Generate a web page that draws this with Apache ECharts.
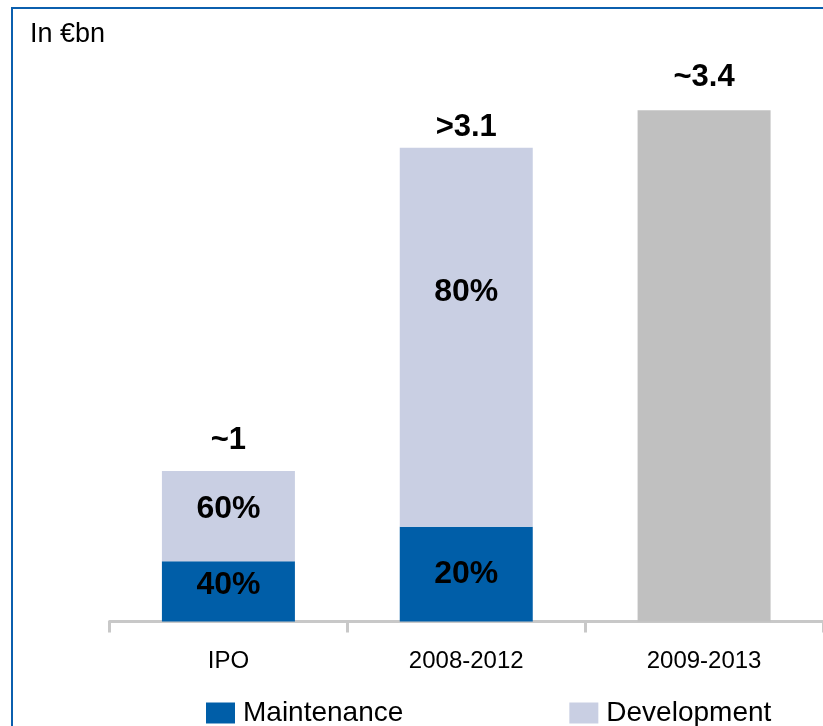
<!DOCTYPE html>
<html>
<head>
<meta charset="utf-8">
<script src="https://cdn.jsdelivr.net/npm/echarts@6/dist/echarts.min.js"></script>
<style>
  html, body { margin: 0; padding: 0; background: #ffffff; }
  #chart { width: 823px; height: 726px; }
</style>
</head>
<body>
<div id="chart"></div>
<script>
// Capex programmes, in € billions
const categories = ['IPO', '2008-2012', '2009-2013'];
const totals = [1, 3.15, 3.4];                    // bar totals
const totalLabels = ['~1', '>3.1', '~3.4'];       // labels above bars
const maintenanceShare = [0.4, 0.2, null];        // share of maintenance in total
const developmentShare = [0.6, 0.8, null];        // share of development in total
const shareLabels = {
  maintenance: ['40%', '20%', ''],
  development: ['60%', '80%', '']
};
const undividedTotal = [null, null, 3.4];         // programme without split

const FONT = "'Liberation Sans', Arial, Helvetica, sans-serif";
const C_MAINT = '#005ea8';
const C_DEV = '#c9cfe3';
const C_GREY = '#c0c0c0';

const maintenance = categories.map((c, i) =>
  maintenanceShare[i] == null ? null : +(totals[i] * maintenanceShare[i]).toFixed(3));
const development = categories.map((c, i) =>
  developmentShare[i] == null ? null : +(totals[i] * developmentShare[i]).toFixed(3));

// vertical nudges of the share labels inside their segments
const maintLabelShift = [-6, 0, 0];
const devLabelShift = [-7, -45, 0];
// gap between bar top and total label
const totalLabelGap = [15, 5, 17];

const insideLabel = {
  show: true,
  position: 'inside',
  color: '#000',
  fontFamily: FONT,
  fontWeight: 'bold',
  fontSize: 32
};

const chart = echarts.init(document.getElementById('chart'), null, { renderer: 'canvas' });

chart.setOption({
  animation: false,
  backgroundColor: '#ffffff',
  grid: { left: 109.5, width: 717, top: 20, bottom: 104.5, containLabel: false },
  xAxis: {
    type: 'category',
    data: categories,
    axisLine: { show: true, lineStyle: { color: '#c8c8c8', width: 3 } },
    axisTick: { show: true, alignWithLabel: false, length: 11, lineStyle: { color: '#c8c8c8', width: 3 } },
    axisLabel: { color: '#000', fontFamily: FONT, fontSize: 24, margin: 28 }
  },
  yAxis: {
    type: 'value',
    min: 0,
    max: 4,
    show: false,
    splitLine: { show: false }
  },
  legend: {
    data: ['Maintenance', 'Development'],
    left: 206,
    top: 699,
    padding: 0,
    itemWidth: 29,
    itemHeight: 21,
    itemGap: 166,
    icon: 'rect',
    textStyle: { color: '#000', fontFamily: FONT, fontSize: 28, padding: [0, 0, 0, 3] }
  },
  graphic: [
    {
      type: 'rect',
      shape: { x: 12, y: 8, width: 1000, height: 1000 },
      style: { fill: 'none', stroke: '#0b5fae', lineWidth: 2 },
      silent: true
    },
    {
      type: 'text',
      left: 30,
      top: 21,
      style: { text: 'In €bn', fill: '#000', font: '27px ' + FONT }
    }
  ],
  series: [
    {
      name: 'Maintenance',
      type: 'bar',
      stack: 'capex',
      barWidth: 133,
      itemStyle: { color: C_MAINT },
      label: Object.assign({}, insideLabel, {
        formatter: p => shareLabels.maintenance[p.dataIndex]
      }),
      data: maintenance.map((v, i) => ({ value: v, label: { offset: [0, maintLabelShift[i]] } }))
    },
    {
      name: 'Development',
      type: 'bar',
      stack: 'capex',
      barWidth: 133,
      itemStyle: { color: C_DEV },
      label: Object.assign({}, insideLabel, {
        formatter: p => shareLabels.development[p.dataIndex]
      }),
      data: development.map((v, i) => ({ value: v, label: { offset: [0, devLabelShift[i]] } }))
    },
    {
      name: 'Total',
      type: 'bar',
      stack: 'capex',
      barWidth: 133,
      itemStyle: { color: C_GREY },
      data: undividedTotal
    },
    {
      // zero-height cap carrying the total labels on top of each stack
      name: 'TotalLabel',
      type: 'bar',
      stack: 'capex',
      barWidth: 133,
      itemStyle: { color: 'transparent' },
      label: {
        show: true,
        position: 'top',
        color: '#000',
        fontFamily: FONT,
        fontWeight: 'bold',
        fontSize: 31,
        formatter: p => totalLabels[p.dataIndex]
      },
      data: categories.map((c, i) => ({ value: 0, label: { distance: totalLabelGap[i] } }))
    }
  ]
});
</script>
</body>
</html>
